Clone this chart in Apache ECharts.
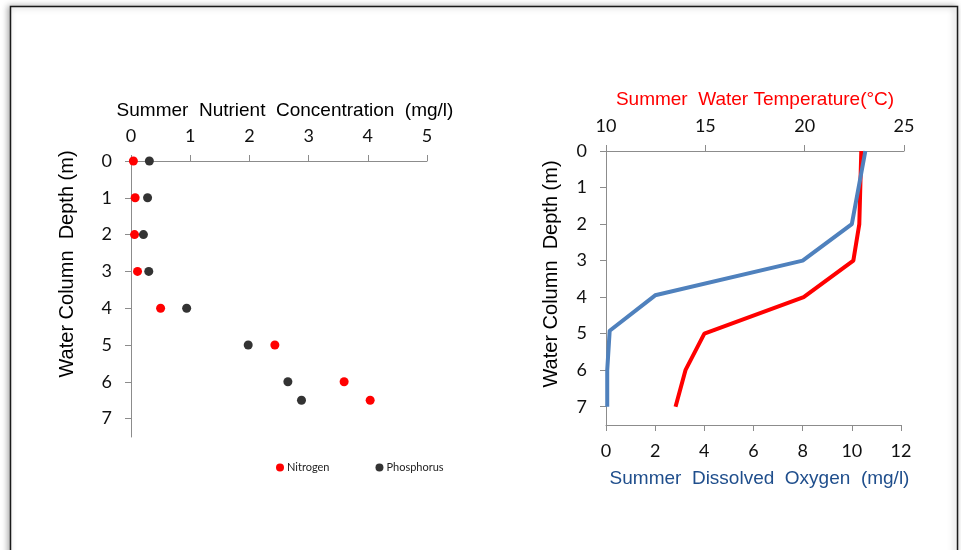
<!DOCTYPE html>
<html>
<head>
<meta charset="utf-8">
<script src="https://cdn.jsdelivr.net/npm/echarts@6/dist/echarts.min.js"></script>
<style>
  html, body { margin: 0; padding: 0; background: #fff; }
  #chart { width: 961px; height: 550px; }
</style>
</head>
<body>
<div id="chart"></div>
<script>
// nutrient profile (left panel)
const nutrientDepths = [0, 1, 2, 3, 4, 5, 6, 6.5];
const nitrogen = [0.04, 0.07, 0.06, 0.11, 0.50, 2.43, 3.60, 4.04];
const phosphorus = [0.31, 0.28, 0.21, 0.30, 0.94, 1.98, 2.65, 2.88];

// temperature / oxygen profile (right panel)
const tempDepths = [0, 1, 2, 3, 4, 5, 6, 7];
const temperature = [22.85, 22.8, 22.75, 22.45, 19.95, 14.95, 14.0, 13.5];
const oxygenDepths = [0, 2, 3, 3.95, 4.92, 6, 7];
const oxygen = [10.55, 10.0, 8.0, 2.0, 0.15, 0.05, 0.05];

const depthTicks = [0, 1, 2, 3, 4, 5, 6, 7];

const pair = (xs, ys) => xs.map((x, i) => [x, ys[i]]);

const tickFont = { fontFamily: 'Lato', fontSize: 18, color: '#111' };
const titleFont = 'Liberation Sans';
const axisGray = '#8c8c8c';

function valueAxis(opts) {
    return Object.assign({
        type: 'value',
        axisLine: { show: true, onZero: false, lineStyle: { color: axisGray, width: 1 } },
        axisTick: { show: true, inside: false, length: 6, lineStyle: { color: axisGray } },
        splitLine: { show: false },
        axisLabel: Object.assign({ margin: 16 }, tickFont)
    }, opts);
}

function depthAxis(gridIndex, show) {
    return valueAxis({
        gridIndex: gridIndex,
        show: show,
        inverse: true,
        min: 0,
        max: 7.5,
        axisTick: { show: true, length: 6, customValues: depthTicks, lineStyle: { color: axisGray } },
        axisLabel: Object.assign({ margin: 19, customValues: depthTicks }, tickFont)
    });
}

const chart = echarts.init(document.getElementById('chart'));
chart.setOption({
    backgroundColor: '#fff',
    animation: false,
    grid: [
        { left: 131, top: 161, width: 296, height: 276, outerBoundsMode: 'none' },
        { left: 606, top: 151, width: 298, height: 274, outerBoundsMode: 'none' },
        { left: 606, top: 151, width: 295, height: 274, outerBoundsMode: 'none' }
    ],
    legend: {
        left: 271,
        top: 457,
        itemWidth: 8,
        itemHeight: 8,
        itemGap: 46,
        icon: 'circle',
        textStyle: { fontFamily: 'Lato', fontSize: 11, color: '#222', padding: [0, 0, 0, -2] },
        data: ['Nitrogen', 'Phosphorus']
    },
    xAxis: [
        valueAxis({
            gridIndex: 0, position: 'top', min: 0, max: 5, interval: 1,
            name: 'Summer  Nutrient  Concentration  (mg/l)',
            nameLocation: 'middle', nameGap: 41,
            nameTextStyle: { fontFamily: titleFont, fontSize: 19, color: '#000', padding: [0, 0, 0, 12] }
        }),
        valueAxis({
            gridIndex: 1, position: 'top', min: 10, max: 25, interval: 5,
            name: 'Summer  Water Temperature(°C)',
            nameLocation: 'middle', nameGap: 42,
            nameTextStyle: { fontFamily: titleFont, fontSize: 19, color: '#ff0000' }
        }),
        valueAxis({
            gridIndex: 2, position: 'bottom', min: 0, max: 12, interval: 2,
            name: 'Summer  Dissolved  Oxygen  (mg/l)',
            nameLocation: 'middle', nameGap: 44,
            axisLabel: Object.assign({ margin: 17 }, tickFont),
            nameTextStyle: { fontFamily: titleFont, fontSize: 19, color: '#1f4e8c', padding: [0, 0, 0, 12] }
        })
    ],
    yAxis: [
        depthAxis(0, true),
        depthAxis(1, true),
        depthAxis(2, false)
    ],
    graphic: [
        {
            type: 'rect', z: -1,
            shape: { x: 10.5, y: 6.5, width: 947, height: 600 },
            style: { fill: '#fff', stroke: '#1a1a1a', lineWidth: 1.5, shadowBlur: 6, shadowColor: 'rgba(0,0,0,0.35)', shadowOffsetX: -2, shadowOffsetY: 0 }
        },
        {
            type: 'text', x: 67, y: 264, rotation: Math.PI / 2,
            style: { text: 'Water Column  Depth (m)', fontFamily: titleFont, fontSize: 20, fill: '#000', align: 'center', verticalAlign: 'middle' }
        },
        {
            type: 'text', x: 551, y: 274, rotation: Math.PI / 2,
            style: { text: 'Water Column  Depth (m)', fontFamily: titleFont, fontSize: 20, fill: '#000', align: 'center', verticalAlign: 'middle' }
        }
    ],
    series: [
        {
            name: 'Nitrogen', type: 'scatter', xAxisIndex: 0, yAxisIndex: 0,
            symbolSize: 9, itemStyle: { color: '#ff0000', opacity: 1 },
            data: pair(nitrogen, nutrientDepths)
        },
        {
            name: 'Phosphorus', type: 'scatter', xAxisIndex: 0, yAxisIndex: 0,
            symbolSize: 9, itemStyle: { color: '#333333', opacity: 1 },
            data: pair(phosphorus, nutrientDepths)
        },
        {
            name: 'Temperature', type: 'line', xAxisIndex: 1, yAxisIndex: 1,
            symbol: 'none', lineStyle: { color: '#ff0000', width: 4 },
            data: pair(temperature, tempDepths)
        },
        {
            name: 'Dissolved Oxygen', type: 'line', xAxisIndex: 2, yAxisIndex: 2,
            symbol: 'none', lineStyle: { color: '#4f81bd', width: 4 },
            data: pair(oxygen, oxygenDepths)
        }
    ]
});
</script>
</body>
</html>
